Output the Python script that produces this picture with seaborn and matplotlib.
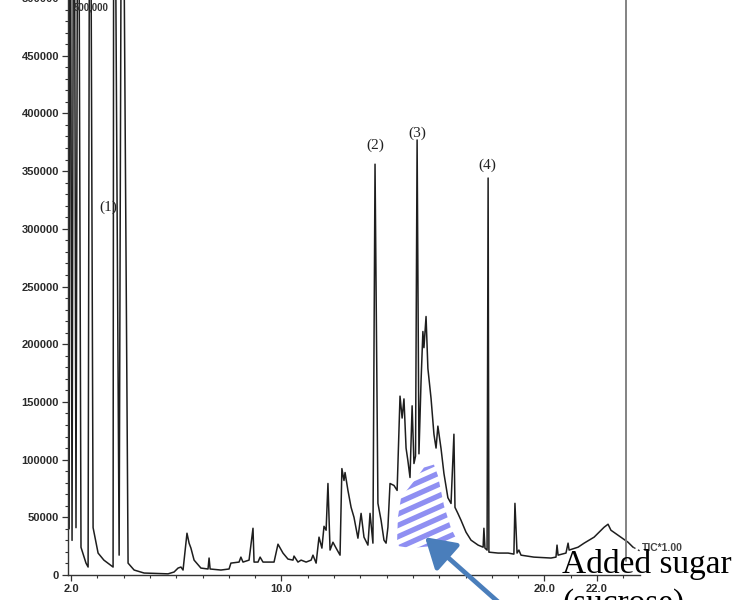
import numpy as np
import pandas as pd
import matplotlib
matplotlib.use("Agg")
import matplotlib.pyplot as plt
from matplotlib.patches import Polygon
from matplotlib.ticker import MultipleLocator, FixedLocator
import seaborn as sns

# retention time (min) / intensity (x1000 counts)
rt = [1.93, 1.96, 2.04, 2.11, 2.19, 2.27, 2.38, 2.57, 2.65, 2.72,
      2.84, 3.03, 3.25, 3.60, 3.63, 3.83, 3.94, 4.17, 4.40, 4.78,
      5.69, 5.92, 6.07, 6.18, 6.26, 6.41, 6.49, 6.56, 6.68, 6.94,
      7.21, 7.25, 7.29, 7.70, 8.01, 8.08, 8.39, 8.46, 8.54, 8.77,
      8.92, 8.96, 9.11, 9.19, 9.30, 9.72, 9.87, 10.06, 10.25, 10.44,
      10.48, 10.63, 10.75, 10.94, 11.13, 11.20, 11.32, 11.43, 11.54, 11.62,
      11.70, 11.77, 11.85, 11.96, 12.08, 12.23, 12.30, 12.38, 12.42, 12.53,
      12.65, 12.76, 12.91, 13.03, 13.14, 13.29, 13.37, 13.48, 13.56, 13.67,
      13.79, 13.90, 13.98, 14.05, 14.13, 14.28, 14.40, 14.51, 14.59, 14.66,
      14.74, 14.81, 14.89, 14.97, 15.04, 15.10, 15.16, 15.23, 15.31, 15.38,
      15.42, 15.50, 15.57, 15.69, 15.80, 15.88, 15.95, 16.07, 16.18, 16.33,
      16.45, 16.56, 16.60, 16.71, 16.83, 17.02, 17.21, 17.48, 17.67, 17.70,
      17.74, 17.82, 17.86, 17.89, 18.24, 18.62, 18.84, 18.88, 18.96, 19.03,
      19.11, 19.60, 20.25, 20.44, 20.48, 20.52, 20.82, 20.90, 20.94, 21.28,
      21.51, 21.89, 22.27, 22.42, 22.53, 22.80, 23.18, 23.37]
intensity_k = [40, 800, 30, 800, 41, 800, 24, 10.3, 6.9, 800,
               41, 19, 12.9, 6.9, 800, 17.2, 800, 10.3, 4.3, 1.7,
               1.0, 2.6, 6.0, 6.9, 4.3, 36.2, 27.6, 23.3, 12.9, 6.0,
               5.2, 14.7, 5.2, 4.3, 5.2, 10.3, 11.2, 15.5, 11.2, 12.9,
               40.5, 11.2, 11.2, 15.5, 11.2, 11.2, 26.7, 19.0, 13.8, 12.9,
               16.4, 11.2, 12.9, 11.2, 12.9, 17.2, 10.3, 32.8, 23.3, 42.2,
               38.8, 79.3, 21.6, 28.4, 23.3, 17.2, 92.2, 81.9, 88.8, 73.3,
               58.6, 50.0, 31.9, 53.4, 32.8, 25.9, 53.4, 27.6, 356, 62.1,
               47.4, 30.2, 27.6, 41.4, 79.3, 77.6, 73.3, 155, 136, 152.6,
               110, 99, 84.5, 146.6, 96.6, 103, 377, 105, 168, 211,
               197, 224, 179, 153, 122, 110, 129, 109.5, 88, 67,
               62, 122, 58.6, 53.4, 47.4, 37.1, 30.2, 25.9, 24.1, 40.5,
               23.3, 21.6, 344, 19.8, 19.0, 19.0, 18.1, 62.1, 19.0, 21.6,
               17.2, 15.5, 14.7, 15.5, 25.9, 17.2, 19.0, 27.6, 21.6, 24.1,
               27.6, 32.8, 41.4, 44.0, 38.8, 34.5, 28.4, 24.1]
tail_rt = [23.37, 23.62]
tail_k = [24.1, 21.0]

peak_labels = ["(1)", "(2)", "(3)", "(4)"]
peak_label_rt = [3.41, 13.56, 15.16, 17.82]
peak_label_k = [319, 372, 383, 355]

# shaded sugar region (rt, intensity x1000)
sugar_rt = [14.40, 14.43, 14.55, 15.12, 15.42, 15.80, 15.95, 16.18, 16.45, 16.64, 16.07, 14.93, 14.47]
sugar_k = [30.2, 50.0, 67.2, 83.6, 93.1, 95.7, 86.2, 60.3, 40.5, 31.9, 25.9, 23.3, 25.0]

x_major = [2.0, 10.0, 20.0, 22.0]
border_rt = 23.10

df = pd.DataFrame({"rt": rt, "tic": np.array(intensity_k) * 1000})

sns.set_style("ticks")
plt.rcParams["font.family"] = ["Liberation Sans", "DejaVu Sans"]

W, H = 751, 600
fig = plt.figure(figsize=(W / 100, H / 100), dpi=100)
ax = fig.add_axes([68 / W, 25 / H, (640 - 68) / W, 577 / H])

sns.lineplot(data=df, x="rt", y="tic", ax=ax, estimator=None, sort=False,
             color="#1e1e1e", lw=1.1)
ax.plot(tail_rt, np.array(tail_k) * 1000, color="#333", lw=1.0, ls=(0, (2, 2)))
ax.axvline(border_rt, ymin=0.025, ymax=1, color="#7a7a7a", lw=1.3)

ax.set_xlim(2 + (68 - 71) / 26.3, 2 + (640 - 71) / 26.3)
ax.set_ylim(0, 500000)
sns.despine(ax=ax)
for s in ["left", "bottom"]:
    ax.spines[s].set_color("#333")
    ax.spines[s].set_linewidth(1.0)

ax.yaxis.set_major_locator(MultipleLocator(50000))
ax.yaxis.set_minor_locator(MultipleLocator(10000))
ax.xaxis.set_major_locator(FixedLocator(x_major))
ax.xaxis.set_minor_locator(MultipleLocator(1.0))
ax.set_xticklabels([f"{v:.1f}" for v in x_major])
ax.tick_params(axis="both", which="major", length=4.5, width=0.9, color="#333",
               labelsize=8, labelcolor="#2a2a2a", pad=2)
ax.tick_params(axis="both", which="minor", length=2.5, width=0.8, color="#333")
for lab in ax.get_xticklabels() + ax.get_yticklabels():
    lab.set_fontweight("bold")
ax.set_xlabel("")
ax.set_ylabel("")

for lab, x, y in zip(peak_labels, peak_label_rt, peak_label_k):
    ax.text(x, y * 1000, lab, ha="center", va="center", fontsize=11,
            family="Liberation Serif", color="#222")
ax.text(2.75, 492000, "500,000", ha="center", va="center", fontsize=7,
        color="#333", fontweight="bold")
ax.text(23.7, 23500, "TIC*1.00", ha="left", va="center", fontsize=7.5,
        color="#444", fontweight="bold", clip_on=False)

# hatched sugar area: thick stripes clipped to polygon
poly = Polygon(np.column_stack([sugar_rt, np.array(sugar_k) * 1000]),
               closed=True, facecolor="none", edgecolor="none")
ax.add_patch(poly)
slope = 0.45 * 26.3 / 1.16 * 1000
for c in np.arange(-10000, 110000, 9800):
    xs = np.array([14.0, 17.0])
    ln, = ax.plot(xs, c + slope * (xs - 15.0), color="#8f8ff2",
                  lw=3.8, solid_capstyle="butt")
    ln.set_clip_path(poly)

ax.annotate("", xy=(15.46, 32800), xycoords="data",
            xytext=(505 / W, -8 / H), textcoords="figure fraction",
            arrowprops=dict(arrowstyle="-|>,head_length=0.9,head_width=0.55",
                            color="#4a7ebb", lw=3.4, mutation_scale=20,
                            shrinkA=0, shrinkB=0))

fig.text(562 / W, (600 - 573) / H, "Added sugar", ha="left", va="baseline",
         fontsize=24, family="Liberation Serif", color="black")
fig.text(563 / W, (600 - 612) / H, "(sucrose)", ha="left", va="baseline",
         fontsize=24, family="Liberation Serif", color="black")

fig.savefig("out.png", dpi=100)
